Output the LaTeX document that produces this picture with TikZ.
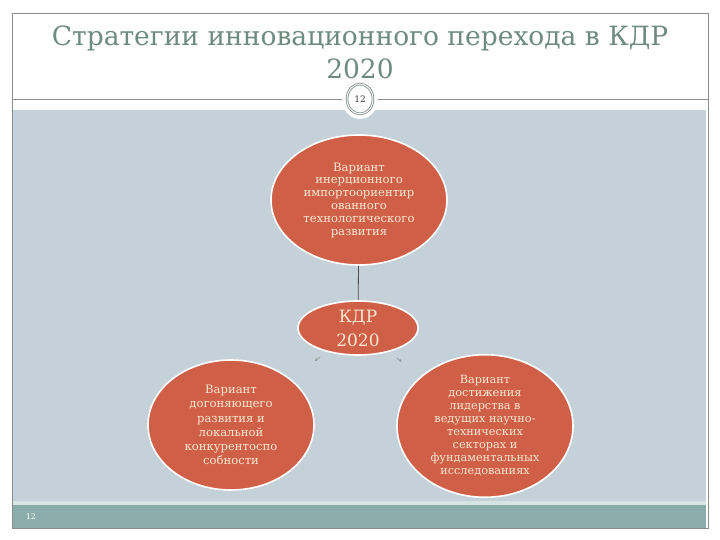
\documentclass[tikz,border=0pt]{standalone}
\usepackage{fontspec}
\setmainfont{DejaVu Serif}
\usetikzlibrary{shapes.geometric,arrows.meta}
\definecolor{bgarea}{HTML}{C5D1D8}
\definecolor{footband}{HTML}{8AACAA}
\definecolor{footline}{HTML}{D6E4E2}
\definecolor{framegray}{HTML}{8C8C8C}
\definecolor{titlecol}{HTML}{6E8B80}
\definecolor{ovalfill}{HTML}{CF5F47}
\definecolor{ovaltext}{HTML}{F7E8D2}
\definecolor{ringgray}{HTML}{7F8C86}
\tikzset{
  oval/.style={ellipse, fill=ovalfill, draw=white, line width=1.6pt, inner sep=0pt,
    text=ovaltext, align=center, font=\fontsize{11.6}{12.8}\selectfont},
  link/.style={draw=black!70, line width=0.8pt},
  sidelink/.style={draw=black!45, line width=0.5pt, -{Stealth[length=3pt,width=2.5pt]}}
}
\begin{document}
\begin{tikzpicture}[x=1pt,y=-1pt]
\useasboundingbox (0,0) rectangle (720,540);
% background areas
\fill[white] (0,0) rectangle (720,540);
\fill[bgarea] (12,110) rectangle (706,501);
\fill[footline] (12,501) rectangle (706,505);
\fill[footband] (12,505) rectangle (706,528);
% frame
\draw[framegray, line width=0.7pt] (12,13) rectangle (708,528);
\draw[framegray, line width=0.7pt] (12,99) -- (708,99);
% title
\node[text=titlecol, align=center, font=\fontsize{26.5}{33}\selectfont] (title) at (360,52)
  {Стратегии инновационного перехода в КДР\\2020};
% slide number badge
\node[ellipse, fill=white, minimum width=36pt, minimum height=40pt, inner sep=0pt] (halo) at (360,99) {};
\node[ellipse, fill=white, draw=ringgray, double=white, double distance=1pt, line width=0.8pt,
  minimum width=26pt, minimum height=30pt, inner sep=0pt, font=\fontsize{9}{10}\selectfont, text=black!75] (num) at (360,99) {12};
% ovals
\node[oval, minimum width=176pt, minimum height=130pt] (top) at (359,200)
  {Вариант\\инерционного\\импортоориентир\\ованного\\технологического\\развития};
\node[oval, minimum width=120pt, minimum height=54pt, font=\fontsize{17}{24}\selectfont] (kdr) at (358,328)
  {КДР\\2020};
\node[oval, minimum width=166pt, minimum height=130pt, font=\fontsize{11.6}{14.2}\selectfont] (left) at (231,425)
  {Вариант\\догоняющего\\развития и\\локальной\\конкурентоспо\\собности};
\node[oval, minimum width=176pt, minimum height=142pt, font=\fontsize{11.3}{13}\selectfont] (right) at (485,426)
  {Вариант\\достижения\\лидерства в\\ведущих научно-\\технических\\секторах и\\фундаментальных\\исследованиях};
% connectors
\draw[link] (top) -- (kdr);
\draw[sidelink, shorten <=8pt, shorten >=30pt] (kdr) -- (left);
\draw[sidelink, shorten <=10pt, shorten >=24pt] (kdr) -- (right);
% footer number
\node[text=white, font=\fontsize{8}{9}\selectfont] (foot) at (31,517) {12};
\end{tikzpicture}
\end{document}
